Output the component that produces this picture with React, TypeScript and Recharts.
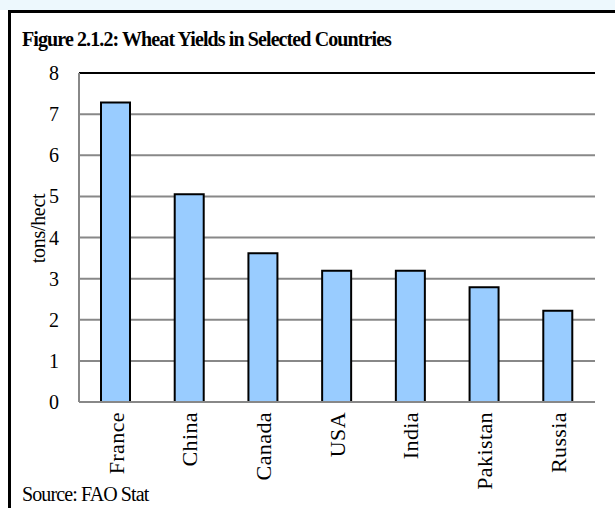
import React from 'react';
import { Bar, BarChart, CartesianGrid, ReferenceLine, XAxis, YAxis } from 'recharts';

const countries = ['France', 'China', 'Canada', 'USA', 'India', 'Pakistan', 'Russia'];
const yields = [7.28, 5.05, 3.62, 3.19, 3.19, 2.79, 2.22];
const yTicks = [0, 1, 2, 3, 4, 5, 6, 7, 8];

const data = countries.map((country, i) => ({ country, value: yields[i] }));

const SERIF = '"Liberation Serif", "Times New Roman", serif';

function CountryTick(props: any) {
  const { x, y, payload } = props;
  return (
    <text
      transform={`translate(${x},${y}) rotate(-90)`}
      x={-2}
      y={0}
      dy="0.35em"
      textAnchor="end"
      fontFamily={SERIF}
      fontSize={22}
      letterSpacing={0.4}
      fill="#000"
    >
      {payload.value}
    </text>
  );
}

function AxisTitle(props: any) {
  const { viewBox } = props;
  const cy = viewBox.y + viewBox.height / 2 - 9;
  return (
    <text
      transform={`translate(38,${cy}) rotate(-90)`}
      textAnchor="middle"
      dy="0.35em"
      fontFamily={SERIF}
      fontSize={20}
      letterSpacing={-0.3}
      fill="#000"
    >
      tons/hect
    </text>
  );
}

export default function App() {
  return (
    <div
      style={{
        position: 'fixed',
        left: 0,
        top: 0,
        width: 615,
        height: 508,
        background: '#fff',
        overflow: 'hidden',
        fontFamily: SERIF,
      }}
    >
      <div style={{ position: 'absolute', left: 0, top: 0, width: 615, height: 10, background: '#EDF8FD' }} />
      <div
        style={{
          position: 'absolute',
          left: 8,
          top: 10,
          width: 700,
          height: 600,
          border: '3px solid #000',
        }}
      />
      <div
        style={{
          position: 'absolute',
          left: 22,
          top: 28,
          fontSize: 20,
          fontWeight: 'bold',
          letterSpacing: -0.9,
          whiteSpace: 'nowrap',
        }}
      >
        Figure 2.1.2: Wheat Yields in Selected Countries
      </div>
      <div
        style={{ position: 'absolute', left: 22, top: 483, fontSize: 20, letterSpacing: -0.9, whiteSpace: 'nowrap' }}
      >
        Source: FAO Stat
      </div>
      <div style={{ position: 'absolute', left: 0, top: 0 }}>
        <BarChart width={615} height={508} data={data} margin={{ top: 73, right: 20, bottom: 26, left: 0 }}>
          <CartesianGrid vertical={false} stroke="#888" strokeWidth={2} />
          <XAxis
            dataKey="country"
            height={80}
            axisLine={{ stroke: '#888', strokeWidth: 2 }}
            tickLine={false}
            interval={0}
            tick={<CountryTick />}
          />
          <YAxis
            domain={[0, 8]}
            ticks={yTicks}
            width={79}
            axisLine={{ stroke: '#888', strokeWidth: 2 }}
            tickLine={false}
            tickMargin={14}
            tick={{ fontFamily: SERIF, fontSize: 20, fill: '#000' }}
            label={<AxisTitle />}
          />
          <YAxis
            yAxisId="frame"
            orientation="right"
            width={0}
            domain={[0, 8]}
            tick={false}
            tickLine={false}
            axisLine={{ stroke: '#000', strokeWidth: 2 }}
          />
          <ReferenceLine y={8} stroke="#000" strokeWidth={2} />
          <Bar dataKey="value" fill="#99CCFF" stroke="#000" strokeWidth={2} barSize={29} isAnimationActive={false} />
        </BarChart>
      </div>
    </div>
  );
}
